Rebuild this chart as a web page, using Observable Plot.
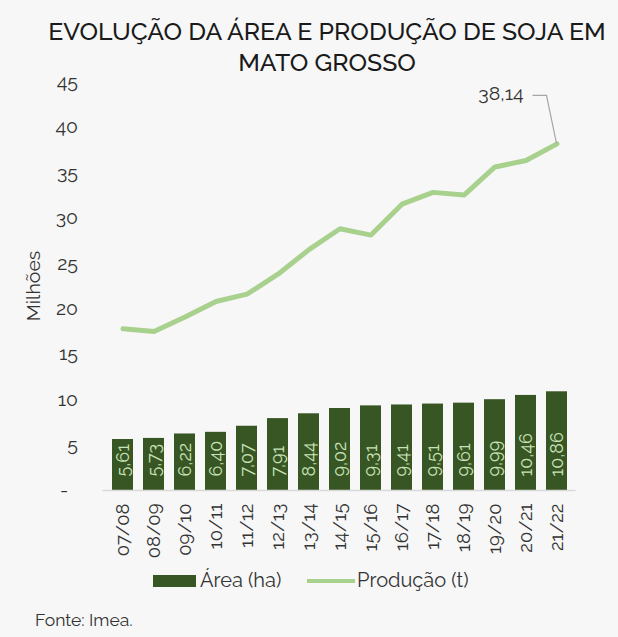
<!DOCTYPE html>
<html>
<head>
<meta charset="utf-8">
<script src="https://cdn.jsdelivr.net/npm/d3@7"></script>
<script src="https://cdn.jsdelivr.net/npm/@observablehq/plot@0.6"></script>
<style>
  html, body { margin: 0; padding: 0; background: #f7f7f7; }
  body { width: 618px; height: 637px; position: relative; overflow: hidden; font-family: Raleway, Lato, sans-serif; }
  #title { height: 78px; box-sizing: border-box; padding-top: 15.5px; padding-left: 36px; text-align: center; font-size: 24.8px; line-height: 31px; font-weight: 500; color: #1a1a1a; letter-spacing: 0; white-space: nowrap; }
  #chart svg { display: block; overflow: visible; }
  .leg { position: absolute; font-size: 20px; color: #333; line-height: 22px; }
  #caption { position: absolute; left: 35px; top: 609px; font-size: 17.5px; color: #333; line-height: 22px; }
</style>
</head>
<body>
<div id="title">EVOLUÇÃO DA ÁREA E PRODUÇÃO DE SOJA EM<br>MATO GROSSO</div>
<div id="chart"></div>
<div class="leg" style="left:153px; top:575px; width:43px; height:12px; background:#375623;"></div>
<div class="leg" style="left:200px; top:569px;">Área (ha)</div>
<div class="leg" style="left:307px; top:579px; width:48px; height:4px; background:#a9d18e;"></div>
<div class="leg" style="left:357px; top:569px;">Produção (t)</div>
<div id="caption">Fonte: Imea.</div>
<script>
const seasons = ["07/08","08/09","09/10","10/11","11/12","12/13","13/14","14/15","15/16","16/17","17/18","18/19","19/20","20/21","21/22"];
const area = [5.61, 5.73, 6.22, 6.40, 7.07, 7.91, 8.44, 9.02, 9.31, 9.41, 9.51, 9.61, 9.99, 10.46, 10.86];
const production = [17.8, 17.5, 19.1, 20.8, 21.6, 23.8, 26.5, 28.8, 28.1, 31.5, 32.8, 32.5, 35.6, 36.3, 38.14];
const yTicks = [0, 5, 10, 15, 20, 25, 30, 35, 40, 45];

const data = seasons.map((s, i) => ({season: s, area: area[i], prod: production[i]}));
const last = data[data.length - 1];
const fmt = v => v.toFixed(2).replace(".", ",");

function leader(...args) {
  const scales = args.find(a => a && typeof a.x === "function" && typeof a.y === "function");
  const sx = scales.x, sy = scales.y;
  const bw = sx.bandwidth ? sx.bandwidth() : 0;
  const px = sx(last.season) + bw / 2, py = sy(last.prod);
  const p = document.createElementNS("http://www.w3.org/2000/svg", "path");
  p.setAttribute("d", `M${px},${py}L${px - 10},${py - 48}L${px - 24},${py - 48}`);
  p.setAttribute("fill", "none");
  p.setAttribute("stroke", "#a6a6a6");
  p.setAttribute("stroke-width", "1.2");
  return p;
}

const chart = Plot.plot({
  width: 618,
  height: 490,
  marginTop: 3,
  marginBottom: 78,
  marginLeft: 102.5,
  marginRight: 42.5,
  style: {background: "transparent", fontFamily: "Raleway, Lato, sans-serif", color: "#333", overflow: "visible"},
  x: {domain: seasons, paddingInner: 0.33, paddingOuter: 0.165},
  y: {domain: [0, 45]},
  marks: [
    Plot.axisY({ticks: yTicks, tickSize: 0, tickPadding: 25, fontSize: 19.5, label: null,
      tickFormat: d => d === 0 ? "-\u2007" : String(d)}),
    Plot.axisX({tickSize: 0, tickPadding: 13, tickRotate: -90, fontSize: 18.5, label: null}),
    Plot.text(["Milhões"], {frameAnchor: "left", textAnchor: "middle", dx: -69.5, rotate: -90, fontSize: 19.5, fill: "#333", text: d => d}),
    Plot.barY(data, {x: "season", y: "area", fill: "#375623"}),
    Plot.ruleY([0], {stroke: "#d9d9d9", strokeWidth: 1.5}),
    Plot.text(data, {x: "season", y: 0, text: d => fmt(d.area), rotate: -90, textAnchor: "start", dy: -14, fontSize: 18, fill: "#c9e2b8"}),
    Plot.line(data, {x: "season", y: "prod", stroke: "#a9d18e", strokeWidth: 5, strokeLinejoin: "round"}),
    leader,
    Plot.text([last], {x: "season", y: "prod", text: d => fmt(d.prod), dx: -56, dy: -50, fontSize: 19.5, fill: "#333"})
  ]
});
document.getElementById("chart").appendChild(chart);
</script>
</body>
</html>
